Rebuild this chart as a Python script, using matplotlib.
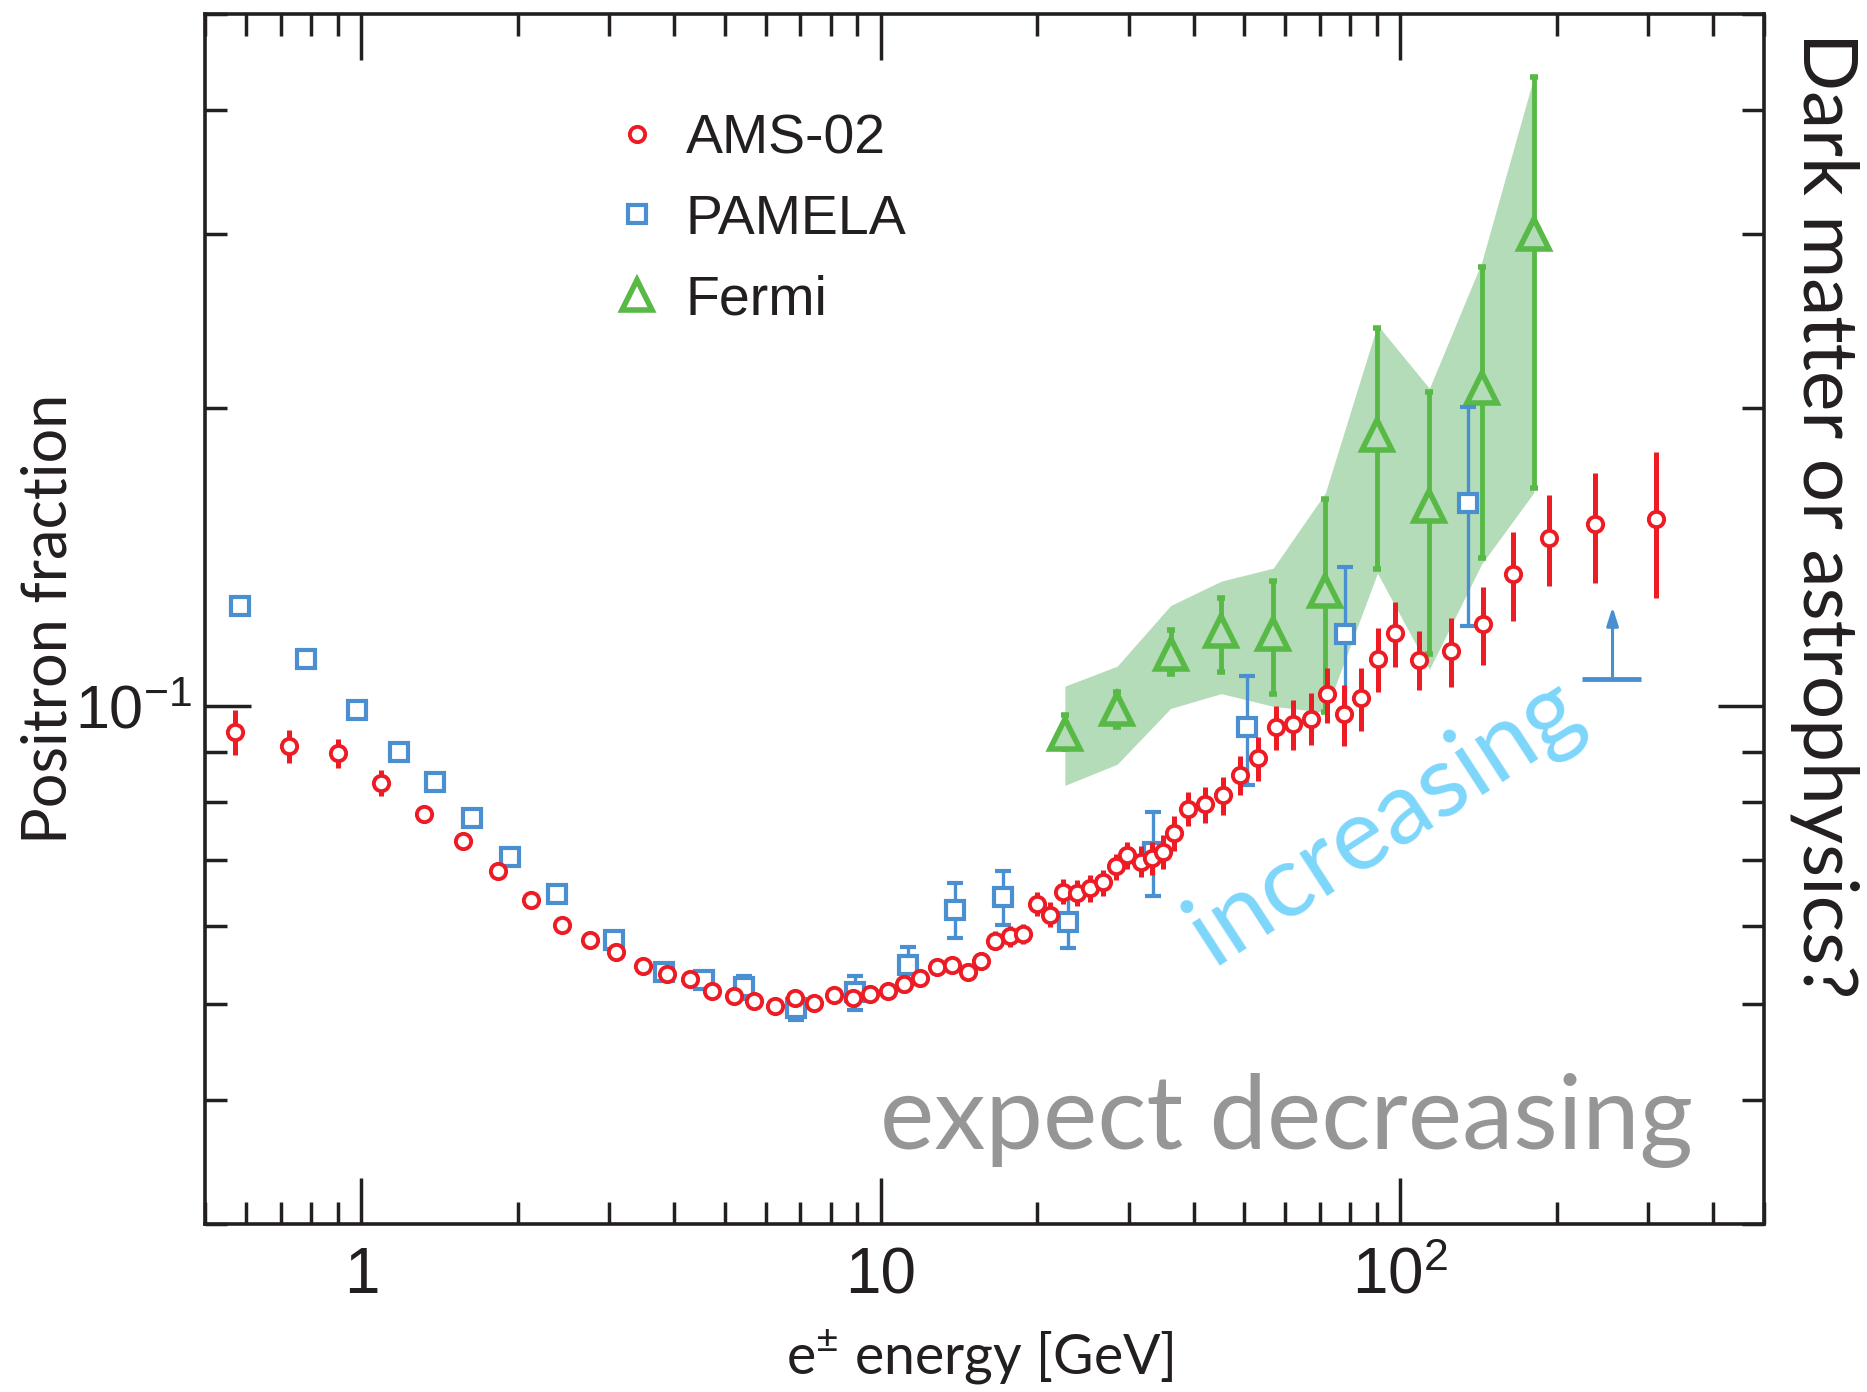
import matplotlib
matplotlib.use('Agg')
import matplotlib.pyplot as plt
from matplotlib.lines import Line2D
from matplotlib import ticker
import numpy as np

# AMS-02 positron fraction
ams_e = [0.57, 0.725, 0.90, 1.09, 1.32, 1.57, 1.83, 2.12, 2.43, 2.75,
         3.09, 3.48, 3.88, 4.30, 4.74, 5.21, 5.71, 6.25, 6.83, 7.43,
         8.12, 8.84, 9.53, 10.3, 11.1, 11.9, 12.8, 13.7, 14.7, 15.6,
         16.6, 17.7, 18.8, 20.0, 21.2, 22.4, 23.8, 25.3, 26.8, 28.3,
         29.8, 31.6, 33.2, 34.9, 36.7, 39.0, 42.0, 45.5, 49.2, 53.1,
         57.5, 62.1, 67.4, 72.3, 78.0, 84.0, 90.4, 97.6, 108.6, 125.3,
         144, 165, 193, 237, 310]
ams_f = [0.0943, 0.0912, 0.0897, 0.0837, 0.0779, 0.0731, 0.0682, 0.0638, 0.0602, 0.0581,
         0.0565, 0.0547, 0.0537, 0.0530, 0.0516, 0.0510, 0.0504, 0.0498, 0.0507, 0.0501,
         0.0511, 0.0508, 0.0512, 0.0516, 0.0524, 0.0532, 0.0546, 0.0548, 0.0539, 0.0553,
         0.0580, 0.0586, 0.0589, 0.0632, 0.0616, 0.0650, 0.0648, 0.0655, 0.0664, 0.0689,
         0.0707, 0.0697, 0.0703, 0.0713, 0.0744, 0.0788, 0.0796, 0.0813, 0.0852, 0.0886,
         0.0952, 0.0959, 0.0972, 0.1028, 0.0982, 0.1019, 0.1116, 0.1185, 0.1115, 0.1137,
         0.1211, 0.1360, 0.1479, 0.1527, 0.1546]
ams_err = [0.0049, 0.0035, 0.0030, 0.0025, 0.0010, 0.0010, 0.0010, 0.0010, 0.0010, 0.0010,
           0.0008, 0.0008, 0.0008, 0.0008, 0.0008, 0.0008, 0.0008, 0.0008, 0.0008, 0.0008,
           0.0008, 0.0008, 0.0008, 0.0008, 0.0008, 0.0008, 0.0008, 0.0008, 0.0008, 0.0012,
           0.0013, 0.0014, 0.0014, 0.0018, 0.0018, 0.0019, 0.0019, 0.0020, 0.0020, 0.0021,
           0.0022, 0.0025, 0.0027, 0.0028, 0.0030, 0.0031, 0.0033, 0.0036, 0.0039, 0.0045,
           0.0048, 0.0055, 0.0059, 0.0065, 0.0070, 0.0075, 0.0083, 0.0090, 0.0077, 0.0090,
           0.0110, 0.0140, 0.0155, 0.0195, 0.0260]

# PAMELA
pam_e = [0.584, 0.782, 0.982, 1.18, 1.383, 1.634, 1.934, 2.375, 3.06, 3.83,
         4.56, 5.44, 6.86, 8.91, 11.3, 13.9, 17.2, 22.9, 33.4, 50.7, 78.3, 135]
pam_f = [0.1263, 0.1117, 0.0991, 0.0899, 0.0838, 0.0771, 0.0705, 0.0647, 0.0581, 0.0539,
         0.0529, 0.0520, 0.0496, 0.0514, 0.0548, 0.0623, 0.0642, 0.0605, 0.0713, 0.0952,
         0.1183, 0.1605]
pam_err = [0.0008, 0.0008, 0.0008, 0.0008, 0.0008, 0.0008, 0.0008, 0.0008, 0.0008, 0.0008,
           0.0009, 0.0014, 0.0014, 0.0020, 0.0024, 0.0040, 0.0040, 0.0035, 0.0070, 0.0120,
           0.0200, 0.0400]
# PAMELA lower limit bin
pam_lim_e = 256
pam_lim_lo = 224
pam_lim_hi = 291
pam_lim_f = 0.1065
pam_lim_top = 0.126

# Fermi
fermi_e = [22.6, 28.5, 36.1, 45.2, 56.9, 71.7, 90.3, 113.7, 143.3, 180.5]
fermi_f = [0.0937, 0.0993, 0.1129, 0.1191, 0.1183, 0.1307, 0.1880, 0.1594, 0.2099, 0.300]
fermi_lo = [0.0905, 0.0952, 0.1077, 0.1084, 0.1028, 0.0986, 0.1376, 0.1129, 0.1411, 0.1661]
fermi_hi = [0.0979, 0.1034, 0.1194, 0.1286, 0.1338, 0.1620, 0.2411, 0.2079, 0.2777, 0.4323]
band_lo = [0.0832, 0.0874, 0.0995, 0.1030, 0.1000, 0.0986, 0.1363, 0.1090, 0.1392, 0.1643]
band_hi = [0.1048, 0.1098, 0.1264, 0.1338, 0.1379, 0.1643, 0.2428, 0.2095, 0.2808, 0.4317]

x_ticks = [1, 10, 100]
x_labels = ['1', '10', r'$\mathdefault{10^{2}}$']
y_ticks = [0.1]
y_labels = [r'$\mathdefault{10^{-1}}$']

red = '#ed1c24'
blue = '#4a8fd0'
green = '#58b947'
band_col = '#b5dcb9'
ink = '#231f20'

fig = plt.figure(figsize=(18.67, 13.92), dpi=100)
ax = fig.add_axes([0.1098, 0.1207, 0.8348, 0.8690])
ax.set_xscale('log')
ax.set_yscale('log')

ax.fill_between(fermi_e, band_lo, band_hi, color=band_col, lw=0, zorder=1)
fermi_err = [np.array(fermi_f) - np.array(fermi_lo), np.array(fermi_hi) - np.array(fermi_f)]
ax.errorbar(fermi_e, fermi_f, yerr=fermi_err, fmt='^', ms=21, mew=4, mec=green, mfc=band_col,
            ecolor=green, elinewidth=3.5, capsize=3, capthick=3.5, zorder=2)

ax.errorbar(pam_e, pam_f, yerr=pam_err, fmt='s', ms=13, mew=3, mec=blue, mfc='white',
            ecolor=blue, elinewidth=2.4, capsize=6, capthick=2.6, zorder=3)
ax.hlines(pam_lim_f, pam_lim_lo, pam_lim_hi, color=blue, lw=3.5, zorder=3)
ax.annotate('', xy=(pam_lim_e, pam_lim_top), xytext=(pam_lim_e, pam_lim_f),
            arrowprops=dict(arrowstyle='-|>,head_length=1.1,head_width=0.35', color=blue,
                            lw=2.2, shrinkA=0, shrinkB=0), zorder=3)

ax.errorbar(ams_e, ams_f, yerr=ams_err, fmt='o', ms=11, mew=2.8, mec=red, mfc='white',
            ecolor=red, elinewidth=3.6, capsize=0, zorder=4)

ax.set_xlim(0.5, 500)
ax.set_ylim(0.03, 0.5)
ax.set_xticks(x_ticks, x_labels)
ax.set_yticks(y_ticks, y_labels)
ax.xaxis.set_minor_formatter(ticker.NullFormatter())
ax.yaxis.set_minor_formatter(ticker.NullFormatter())
ax.tick_params(which='both', direction='in', top=True, right=True, width=2.5, color=ink,
               labelcolor=ink, labelsize=46, labelfontfamily='Liberation Sans')
ax.tick_params(which='major', length=33)
ax.tick_params(which='minor', length=16)
ax.tick_params(axis='x', which='major', pad=16)
ax.tick_params(axis='y', which='major', pad=9, labelsize=44)
for s in ax.spines.values():
    s.set_linewidth(2.6)
    s.set_color(ink)

ax.set_ylabel('Positron fraction', fontsize=44, family='Lato', color=ink, va='center')
ax.yaxis.set_label_coords(-0.100, 0.5)
ax.set_xlabel('e$^{\\mathdefault{±}}$ energy [GeV]', fontsize=40, family='Lato', color=ink, va='center')
ax.xaxis.set_label_coords(0.497, -0.110)

handles = [Line2D([], [], ls='none', marker='o', ms=11, mew=2.8, mec=red, mfc='white'),
           Line2D([], [], ls='none', marker='s', ms=13, mew=3, mec=blue, mfc='white'),
           Line2D([], [], ls='none', marker='^', ms=21, mew=4, mec=green, mfc='white')]
ax.legend(handles, ['AMS-02', 'PAMELA', 'Fermi'], loc='upper left', bbox_to_anchor=(0.263, 0.918),
          frameon=False, prop={'family': 'Liberation Sans', 'size': 40}, handlelength=0.8,
          handletextpad=0.47, labelspacing=0.51, borderpad=0, borderaxespad=0, labelcolor=ink)

ax.text(0.757, 0.3325, 'increasing', transform=ax.transAxes, rotation=33, ha='center', va='center',
        fontsize=73, family='Lato', color='#7dd6fb')
ax.text(0.694, 0.0622, 'expect decreasing', transform=ax.transAxes, ha='center', va='baseline',
        fontsize=74, family='Lato', color='#969696')
fig.text(0.9775, 0.630, 'Dark matter or astrophysics?', rotation=270, ha='center', va='center',
         fontsize=55, family='Lato', color=ink)

fig.savefig('out.png', dpi=100)
